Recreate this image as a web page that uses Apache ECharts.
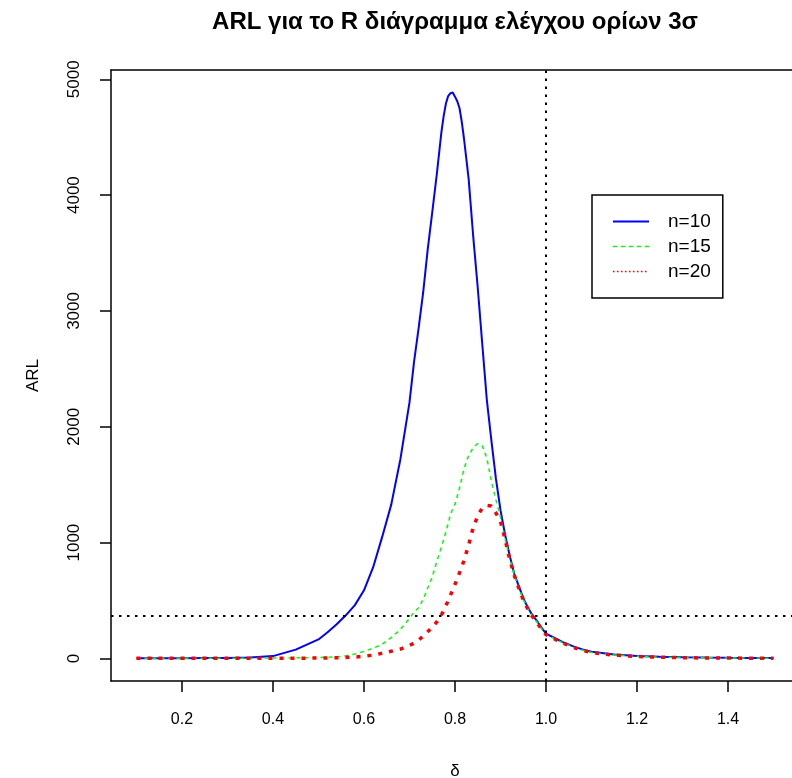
<!DOCTYPE html>
<html>
<head>
<meta charset="utf-8">
<script src="https://cdn.jsdelivr.net/npm/echarts@6/dist/echarts.min.js"></script>
<style>
html,body{margin:0;padding:0;background:#fff;overflow:hidden;}
#chart{width:792px;height:778px;}
</style>
</head>
<body>
<div id="chart"></div>
<script>
var titleText = 'ARL για το R διάγραμμα ελέγχου ορίων 3σ';
var xName = 'δ';
var yName = 'ARL';
var seriesNames = ['n=10', 'n=15', 'n=20'];
var xTicks = [0.2, 0.4, 0.6, 0.8, 1.0, 1.2, 1.4];
var yTicks = [0, 1000, 2000, 3000, 4000, 5000];
var arl0 = 370;
var deltaRef = 1.0;

var delta = [0.10,0.15,0.20,0.25,0.30,0.35,0.40,0.45,0.50,
  0.52,0.54,0.56,0.58,0.60,0.62,0.64,0.66,0.68,
  0.70,0.71,0.72,0.73,0.74,0.75,0.76,0.77,0.775,0.78,0.785,0.79,0.795,0.80,0.805,0.81,0.815,0.82,0.83,0.84,0.85,
  0.86,0.87,0.88,0.89,0.90,0.91,0.92,0.93,0.94,0.95,0.96,0.97,0.98,0.99,1.00,
  1.02,1.04,1.06,1.08,1.10,
  1.15,1.20,1.25,1.30,1.35,1.40,1.45,1.50];

var arlN10 = [1,1,2,3,4,8,20,76,164,
  226,295,372,460,588,785,1049,1330,1720,
  2210,2560,2850,3157,3530,3850,4180,4540,4680,4790,4855,4880,4885,4850,4810,4750,4630,4480,4140,3645,3200,
  2710,2230,1880,1550,1280,1070,890,733,627,520,440,375,325,265,214,
  174,135,104,78,57,
  34,21,14,10,7,5,4,3];

var arlN15 = [1,1,1,1,1,2,3,5,8,
  10,14,22,38,60,88,122,180,250,
  345,400,438,510,605,703,835,960,1025,1090,1165,1240,1290,1330,1400,1470,1555,1640,1750,1820,1855,
  1835,1730,1530,1370,1220,1040,870,725,615,510,432,365,315,258,208,
  168,130,98,72,52,
  30,18,11,7,5,4,3,2];

var arlN20 = [1,1,1,1,1,1,1,2,3,
  4,5,8,12,19,28,44,62,80,
  112,132,158,192,230,268,315,375,410,455,500,545,592,640,690,740,790,850,980,1130,1230,
  1300,1320,1315,1255,1180,1030,860,720,610,505,428,362,310,255,205,
  165,128,95,70,50,
  28,16,10,6,4,3,2,2];

function zip(xs, ys) {
  var out = [];
  for (var i = 0; i < xs.length; i++) out.push([xs[i], ys[i]]);
  return out;
}

var FONT = "'Liberation Sans', Arial, sans-serif";
var chart = echarts.init(document.getElementById('chart'), null, {renderer: 'canvas'});

function boxLine(c) { return {show: true, onZero: false, lineStyle: {color: c, width: 1.5}}; }

var option = {
  animation: false,
  backgroundColor: '#fff',
  textStyle: {fontFamily: FONT},
  title: {
    text: titleText,
    left: 450,
    top: 5,
    textAlign: 'center',
    textStyle: {fontFamily: FONT, fontSize: 24, fontWeight: 'bold', color: '#000'}
  },
  grid: {
    left: 111, top: 70, width: 688, height: 611,
    outerBoundsMode: 'none',
    containLabel: false,
    show: false
  },
  legend: {
    orient: 'vertical',
    left: 592,
    top: 195,
    padding: [17, 12, 17, 20],
    itemGap: 6,
    itemWidth: 36,
    itemHeight: 14,
    borderColor: '#000',
    borderWidth: 1.5,
    backgroundColor: '#fff',
    textStyle: {fontFamily: FONT, fontSize: 19, color: '#000', padding: [0, 0, 0, 14]},
    data: [
      {name: seriesNames[0], itemStyle: {opacity: 0}, lineStyle: {color: '#0000ff', width: 2, type: 'solid'}},
      {name: seriesNames[1], itemStyle: {opacity: 0}, lineStyle: {color: '#00ff00', width: 1.5, type: [4, 4]}},
      {name: seriesNames[2], itemStyle: {opacity: 0}, lineStyle: {color: '#ff0000', width: 1.5, type: [1.5, 2.5]}}
    ]
  },
  xAxis: [{
    type: 'value',
    position: 'bottom',
    min: 0.044,
    max: 1.556,
    name: xName,
    nameLocation: 'middle',
    nameGap: 82,
    nameTextStyle: {fontFamily: FONT, fontSize: 17, color: '#000'},
    axisLine: boxLine('#000'),
    splitLine: {show: false},
    axisTick: {show: true, length: 11, inside: false, customValues: xTicks,
      lineStyle: {color: '#000', width: 1.5}},
    axisLabel: {customValues: xTicks, margin: 31, fontSize: 16, color: '#000', fontFamily: FONT,
      formatter: function (v) { return v.toFixed(1); }}
  }, {
    type: 'value',
    position: 'top',
    min: 0.044,
    max: 1.556,
    axisLine: boxLine('#000'),
    splitLine: {show: false},
    axisTick: {show: false},
    axisLabel: {show: false}
  }],
  yAxis: {
    type: 'value',
    min: -195,
    max: 5080,
    name: yName,
    nameLocation: 'middle',
    nameGap: 69,
    nameRotate: 90,
    nameTextStyle: {fontFamily: FONT, fontSize: 17, color: '#000'},
    axisLine: boxLine('#000'),
    splitLine: {show: false},
    axisTick: {show: true, length: 11, inside: false, customValues: yTicks,
      lineStyle: {color: '#000', width: 1.5}},
    axisLabel: {customValues: yTicks, rotate: 90, margin: 28, fontSize: 17, color: '#000', fontFamily: FONT,
      formatter: function (v) { return String(v); }}
  },
  series: [
    {
      name: seriesNames[0], type: 'line', data: zip(delta, arlN10), symbol: 'none',
      lineStyle: {color: '#0000ff', width: 2, type: 'solid'}, itemStyle: {color: '#0000ff'},
      z: 2,
      markLine: {
        silent: true, symbol: 'none', label: {show: false},
        lineStyle: {color: '#000', width: 2, type: [2.5, 5.5]},
        data: [{yAxis: arl0}, {xAxis: deltaRef}]
      }
    },
    {
      name: seriesNames[1], type: 'line', data: zip(delta, arlN15), symbol: 'none',
      lineStyle: {color: '#00ff00', width: 1.5, type: [4, 4]}, itemStyle: {color: '#00ff00'},
      z: 3
    },
    {
      name: seriesNames[2], type: 'line', data: zip(delta, arlN20), symbol: 'none',
      lineStyle: {color: '#ff0000', width: 3.5, type: [4, 7]}, itemStyle: {color: '#ff0000'},
      z: 4
    }
  ]
};
chart.setOption(option);
</script>
</body>
</html>
